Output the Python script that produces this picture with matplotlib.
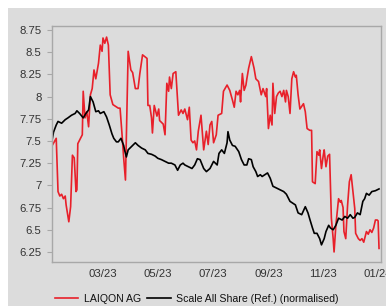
import matplotlib
matplotlib.use("Agg")
import matplotlib.pyplot as plt
import matplotlib.dates as mdates
import pandas as pd
from matplotlib.patches import Rectangle

plt.rcParams['font.family'] = ['Liberation Sans', 'DejaVu Sans']

# day offsets since 2023-01-01 and closing values
red_days = [2, 7, 9, 11, 13, 15, 17, 18, 21, 23, 25, 27, 29, 30, 31, 36, 37, 39, 41, 43,
            45, 47, 49, 51, 54, 56, 58, 59, 61, 63, 65, 67, 70, 76, 78, 80, 82, 84, 87, 90,
            92, 95, 98, 100, 103, 108, 109, 111, 113, 114, 116, 119, 121, 122, 126, 128, 130, 132, 133, 135,
            137, 140, 143, 146, 148, 150, 153, 155, 157, 159, 161, 163, 165, 168, 171, 174, 176, 178, 180, 182,
            185, 187, 191, 193, 197, 200, 203, 205, 207, 209, 211, 212, 214, 216, 218, 219, 221, 223, 224, 227,
            229, 232, 235, 237, 240, 241, 243, 245, 247, 248, 250, 252, 254, 256, 258, 260, 262, 263, 265, 267,
            269, 271, 273, 274, 276, 278, 282, 284, 286, 289, 291, 292, 295, 297, 299, 300, 302, 304, 305, 307,
            309, 311, 313, 315, 316, 318, 321, 323, 324, 326, 327, 329, 331, 333, 335, 337, 339, 340, 343, 345,
            347, 349, 350, 352, 354, 356, 358, 360, 362, 364, 365, 366]
red_vals = [7.44, 7.53, 6.93, 6.88, 6.90, 6.85, 6.88, 6.78, 6.59, 6.76, 7.34, 7.31, 6.93, 6.95, 7.47, 7.57, 8.06, 7.76, 7.83, 7.66,
            8.02, 8.09, 8.30, 8.20, 8.375, 8.58, 8.51, 8.66, 8.60, 8.67, 8.58, 8.02, 7.91, 7.87, 7.87, 7.60, 7.31, 7.06, 8.51, 8.30,
            8.27, 8.09, 8.09, 8.26, 8.47, 8.43, 7.90, 7.90, 7.76, 7.59, 7.90, 7.78, 7.86, 7.73, 7.69, 7.57, 8.15, 8.06, 8.22, 8.09,
            8.26, 8.28, 7.79, 7.85, 7.81, 7.86, 7.74, 7.88, 7.51, 7.48, 7.50, 7.40, 7.61, 7.79, 7.40, 7.61, 7.46, 7.68, 7.72, 7.48,
            7.57, 7.79, 7.81, 8.06, 8.13, 8.07, 7.96, 7.88, 8.06, 8.02, 8.07, 7.94, 8.26, 8.07, 8.13, 8.20, 8.32, 8.41, 8.45, 8.32,
            8.20, 8.17, 8.02, 8.09, 8.00, 8.09, 7.64, 7.79, 7.68, 8.15, 7.81, 8.00, 8.04, 8.06, 8.00, 8.07, 7.94, 8.07, 8.00, 7.81,
            8.20, 8.28, 8.22, 8.24, 8.02, 7.86, 7.92, 7.83, 7.64, 7.62, 7.62, 7.04, 7.02, 7.38, 7.34, 7.40, 7.19, 7.34, 7.40, 7.21,
            7.33, 7.35, 6.63, 6.40, 6.25, 6.55, 6.85, 6.81, 6.83, 6.75, 6.48, 6.40, 6.77, 7.04, 7.12, 6.93, 6.74, 6.46, 6.40, 6.38,
            6.40, 6.36, 6.40, 6.48, 6.45, 6.50, 6.47, 6.52, 6.61, 6.61, 6.60, 6.29]

black_days = [2, 4, 7, 9, 13, 17, 20, 24, 28, 30, 33, 37, 40, 43, 45, 48, 51, 54, 56, 60,
              63, 66, 69, 71, 74, 76, 79, 82, 83, 85, 87, 91, 95, 98, 102, 106, 109, 113, 117, 120,
              124, 128, 132, 135, 139, 142, 145, 148, 150, 154, 158, 161, 164, 167, 171, 174, 178, 182, 186, 188,
              191, 194, 197, 198, 200, 203, 206, 210, 213, 216, 219, 221, 224, 226, 229, 231, 234, 236, 239, 242,
              245, 248, 252, 256, 260, 263, 267, 270, 273, 276, 280, 284, 287, 289, 292, 294, 297, 300, 302, 305,
              307, 310, 312, 315, 318, 321, 325, 328, 331, 334, 337, 339, 342, 345, 348, 350, 352, 355, 358, 362,
              366]
black_vals = [7.49, 7.60, 7.68, 7.72, 7.70, 7.74, 7.76, 7.79, 7.81, 7.84, 7.81, 7.76, 7.81, 7.85, 8.00, 7.94, 7.83, 7.84, 7.81, 7.83,
              7.77, 7.68, 7.58, 7.53, 7.49, 7.49, 7.53, 7.45, 7.40, 7.32, 7.40, 7.44, 7.48, 7.45, 7.42, 7.40, 7.36, 7.35, 7.33, 7.305,
              7.29, 7.27, 7.25, 7.25, 7.23, 7.17, 7.23, 7.25, 7.23, 7.21, 7.19, 7.23, 7.30, 7.29, 7.19, 7.155, 7.19, 7.27, 7.23, 7.36,
              7.40, 7.36, 7.48, 7.605, 7.51, 7.45, 7.44, 7.38, 7.29, 7.23, 7.23, 7.30, 7.29, 7.21, 7.155, 7.10, 7.12, 7.10, 7.12, 7.14,
              7.08, 6.99, 6.97, 6.95, 6.93, 6.90, 6.82, 6.80, 6.78, 6.69, 6.67, 6.76, 6.69, 6.62, 6.52, 6.46, 6.46, 6.40, 6.33, 6.40,
              6.48, 6.55, 6.52, 6.50, 6.55, 6.63, 6.61, 6.65, 6.63, 6.67, 6.63, 6.64, 6.69, 6.67, 6.82, 6.85, 6.91, 6.89, 6.93, 6.94,
              6.96]

yticks = [6.25, 6.5, 6.75, 7, 7.25, 7.5, 7.75, 8, 8.25, 8.5, 8.75]
ytick_labels = ['6.25', '6.5', '6.75', '7', '7.25', '7.5', '7.75', '8', '8.25', '8.5', '8.75']
xtick_dates = ['2023-03-01', '2023-05-01', '2023-07-01', '2023-09-01', '2023-11-01', '2024-01-01']

start = pd.Timestamp('2023-01-01')
red_dates = start + pd.to_timedelta(red_days, unit='D')
black_dates = start + pd.to_timedelta(black_days, unit='D')

BG = '#dcdcdc'
fig = plt.figure(figsize=(3.86, 3.06), dpi=100, facecolor='white')
fig.patches.append(Rectangle((8/386, 0), 1, 1 - 8/306, transform=fig.transFigure,
                             facecolor=BG, edgecolor='none', zorder=-10))
ax = fig.add_axes([52/386, 1 - 262/306, (381 - 52)/386, (262 - 26)/306])
ax.set_facecolor(BG)

l1, = ax.plot(red_dates, red_vals, color='#e8202a', lw=1.2, label='LAIQON AG')
l2, = ax.plot(black_dates, black_vals, color='black', lw=1.2, label='Scale All Share (Ref.) (normalised)')

ax.set_ylim(6.137, 8.795)
ax.set_xlim(start + pd.Timedelta(days=2.3), start + pd.Timedelta(days=368.2))
ax.set_yticks(yticks)
ax.set_yticklabels(ytick_labels)
ax.set_xticks(pd.to_datetime(xtick_dates))
ax.xaxis.set_major_formatter(mdates.DateFormatter('%m/%y'))

for s in ax.spines.values():
    s.set_color('#a8a8a8')
    s.set_linewidth(1.0)
ax.tick_params(axis='y', length=3.5, color='#a8a8a8', labelsize=8.2, labelcolor='#333333', pad=4)
ax.tick_params(axis='x', length=0, labelsize=8.2, labelcolor='#333333', pad=5)

fig.legend(handles=[l1, l2], loc='center', bbox_to_anchor=(0.51, 1 - 299/306), ncol=2,
           frameon=False, fontsize=7.6, handlelength=2.2, columnspacing=0.6, handletextpad=0.55,
           labelcolor='#111111', borderpad=0.2)

fig.savefig('out.png', dpi=100, facecolor=fig.get_facecolor())
